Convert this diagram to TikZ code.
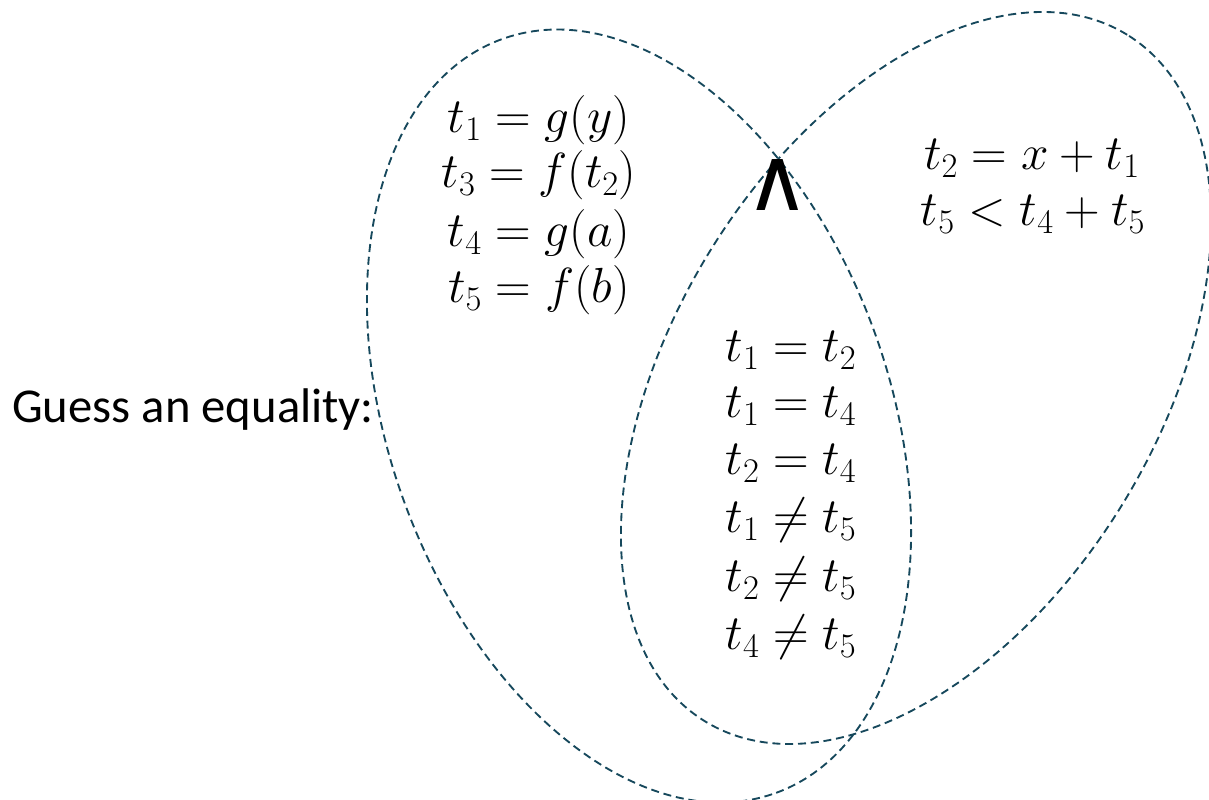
\RequirePackage{fix-cm}
\documentclass[tikz,border=0pt]{standalone}
\usepackage{fontspec}
\setmainfont{Carlito}
\newfontfamily\symfont{DejaVu Sans}
\definecolor{dashcol}{RGB}{22,72,92}
\tikzset{
  setline/.style={draw=dashcol, line width=1.4pt, dash pattern=on 6pt off 3.6pt},
  eqn/.style={anchor=base, inner sep=0pt, font=\fontsize{37}{44}\selectfont},
  lbl/.style={anchor=base west, inner sep=0pt, font=\fontsize{36.5}{44}\selectfont},
}
\begin{document}
\begin{tikzpicture}[x=0.75pt, y=0.75pt]
\useasboundingbox (0,0) rectangle (1209,799);
% sets
\draw[setline, rotate around={-70:(639,383)}] (639,383) ellipse [x radius=401, y radius=250];
\draw[setline, rotate around={58.4:(916,421)}] (916,421) ellipse [x radius=403, y radius=242];
% left block
\node[eqn] (l1) at (539,666) {$t_1 = g(y)$};
\node[eqn] (l2) at (539,611) {$t_3 = f(t_2)$};
\node[eqn] (l3) at (539,552) {$t_4 = g(a)$};
\node[eqn] (l4) at (539,496) {$t_5 = f(b)$};
% right block
\node[eqn] (r1) at (1032,629) {$t_2 = x + t_1$};
\node[eqn] (r2) at (1033,573) {$t_5 < t_4 + t_5$};
% middle block
\node[eqn] (m1) at (791,437) {$t_1 = t_2$};
\node[eqn] (m2) at (791,381) {$t_1 = t_4$};
\node[eqn] (m3) at (791,324) {$t_2 = t_4$};
\node[eqn] (m4) at (791,266) {$t_1 \neq t_5$};
\node[eqn] (m5) at (791,207) {$t_2 \neq t_5$};
\node[eqn] (m6) at (791,149) {$t_4 \neq t_5$};
% conjunction
\node[inner sep=0pt, font=\symfont\fontsize{66}{66}\selectfont] (conj) at (778,614) {∧};
% label
\node[lbl] (guess) at (12,376) {Guess an equality:};
\end{tikzpicture}
\end{document}
